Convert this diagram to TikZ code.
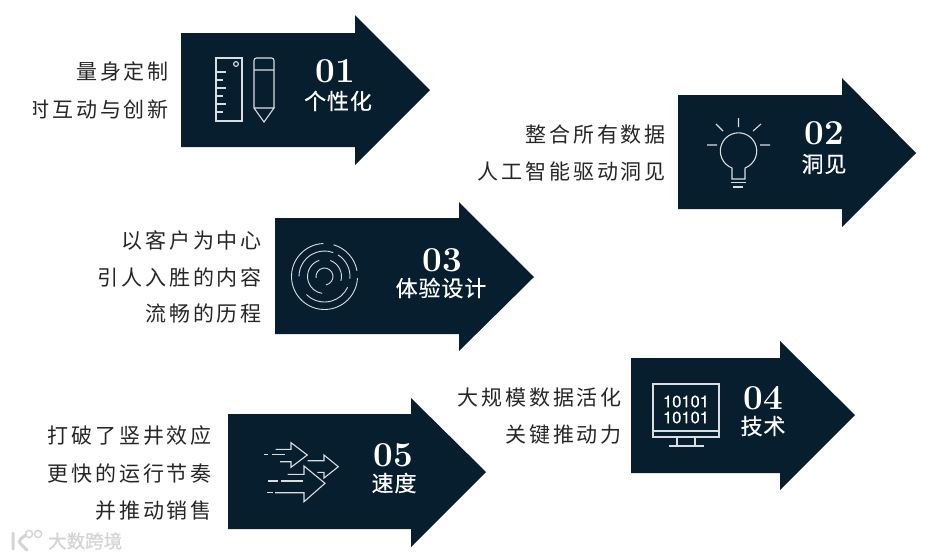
\documentclass[tikz,border=0pt]{standalone}
\usepackage{fontspec}
\usetikzlibrary{calc}
\newfontfamily\cjk[LetterSpace=13.5]{Noto Sans CJK SC}
\newfontfamily\cjkhead[LetterSpace=4,FakeBold=0.5]{Noto Sans CJK SC}
\newfontfamily\cjkmark[FakeBold=1]{Noto Sans CJK SC}
\newfontfamily\binfont[FakeBold=0.4]{TeX Gyre Heros}
\definecolor{navy}{HTML}{071E2F}
\definecolor{iconline}{HTML}{D9DEE1}
\definecolor{wmgray}{HTML}{D4D4D4}
\begin{document}
\begin{tikzpicture}[
  x=1pt,y=-1pt,
  body/.style={anchor=east,inner sep=0pt,font=\fontsize{21}{21}\cjk,text=black!85},
  head/.style={inner sep=0pt,font=\fontsize{22}{22}\cjkhead,text=white},
  num/.style={inner sep=0pt,font=\fontsize{35}{35}\bfseries,text=white},
  binary/.style={inner sep=0pt,text=white,font=\fontsize{16.5}{16.5}\binfont},
  icon/.style={draw=iconline,line width=1.1pt}]
  \useasboundingbox (0,0) rectangle (940,558);

  % the five arrows: left, top, bottom, head x, head top, head bottom, tip x, tip y
  \foreach \l/\t/\b/\hx/\ht/\hb/\tx/\ty in {
    181/33/147/355/15/165/430/90,
    678/95/209/842/78/227/916/153,
    275/218/334/459/202/351/534/277,
    631/358/473/780/341/490/855/415,
    228/414/529/411/398/547/486/472}
    \fill[navy] (\l,\t)--(\hx,\t)--(\hx,\ht)--(\tx,\ty)--(\hx,\hb)--(\hx,\b)--(\l,\b)--cycle;

  % 01: ruler and pencil
  \node[num] (n1) at (335,71) {\oldstylenums{01}};
  \node[head] (h1) at (338,101) {个性化};
  \node[body] (t1a) at (169,72) {量身定制};
  \begin{scope}
    \clip (33,92) rectangle (175,128);
    \node[body] (t1b) at (169,109) {时互动与创新};
  \end{scope}
  \draw[icon] (216,58) rectangle (242,121);
  \draw[icon] (236,64) circle (2.4);
  \foreach \y/\e in {72/226,80/223,88/226,96/223,104/226,112/223}
    \draw[icon] (216,\y)--(\e,\y);
  \draw[icon,rounded corners=2.5pt] (254,108)--(254,58)--(274,58)--(274,108);
  \draw[icon] (254,70)--(274,70) (254,108)--(274,108)--(264,122)--(254,108);

  % 02: bulb
  \node[num] (n2) at (824,133) {\oldstylenums{02}};
  \node[head] (h2) at (824,164) {洞见};
  \node[body] (t2a) at (666,135) {整合所有数据};
  \node[body] (t2b) at (666,171) {人工智能驱动洞见};
  \draw[icon] (732,179)--(732,168) arc[start angle=111,end angle=429,radius=18.2]--(745,179)--cycle;
  \draw[icon] (731,182.5)--(746,182.5) (733,187)--(743,187);
  \draw[icon] (738.5,118)--(738.5,127) (716,124)--(723,131) (761,124)--(753,131)
    (707,145)--(717,145) (760,145)--(770,145);

  % 03: rings
  \node[num] (n3) at (442,260) {\oldstylenums{03}};
  \node[head] (h3) at (441,288) {体验设计};
  \node[body] (t3a) at (262,240) {以客户为中心};
  \node[body] (t3b) at (262,277) {引人入胜的内容};
  \node[body] (t3c) at (262,313) {流畅的历程};
  \coordinate (rc) at (324.5,276.5);
  \foreach \r/\s/\e in {33/92/357,33/74/10,25.5/180/70,25.5/58/-5,25.5/225/335,17/108/262,17/70/-15,8.5/190/-80}
    \draw[icon,line width=.9pt] ($(rc)+(-\s:\r)$) arc[start angle=-\s,end angle=-\e,radius=\r];

  % 04: monitor
  \node[num] (n4) at (763,398) {\oldstylenums{04}};
  \node[head] (h4) at (763,426) {技术};
  \node[body] (t4a) at (622,398) {大规模数据活化};
  \node[body] (t4b) at (622,435) {关键推动力};
  \draw[icon] (653,384) rectangle (719,437);
  \draw[icon] (653,431)--(719,431) (677,437)--(677,446) (695,437)--(695,446) (669,446)--(704,446);
  \node[binary] (b1) at (686,401.5) {10101};
  \node[binary] (b2) at (686,417.5) {10101};

  % 05: fast arrows
  \node[num] (n5) at (393,455) {\oldstylenums{05}};
  \node[head] (h5) at (394,483) {速度};
  \node[body] (t5a) at (212,436) {打破了竖井效应};
  \node[body] (t5b) at (212,474) {更快的运行节奏};
  \node[body] (t5c) at (212,511) {并推动销售};
  \draw[icon] (275.7,449.3)--(291,449.3)--(291,442.7)--(307.3,455)--(291,467.3)--(291,461.7)--(280,461.7);
  \draw[icon] (307.7,460.7)--(324,460.7)--(324,455)--(338.3,466.7)--(324,478)--(324,472.3)--(317.3,472.3);
  \draw[icon] (287.7,474.3)--(304,474.3)--(304,466)--(325,483.3)--(304,501.7)--(304,492.7)--(275,492.7);
  \draw[icon] (264.3,454.3)--(268.3,454.3) (272.3,454.3)--(285,454.3)
    (268.3,481)--(278.3,481) (281,481)--(303.3,481) (267,492.7)--(272.7,492.7);

  % watermark
  \node[inner sep=0pt,anchor=west,text=wmgray,font=\fontsize{18.5}{18.5}\cjkmark] (wm) at (48,541) {大数跨境};
  \draw[wmgray,line width=3pt,line cap=round] (13,533)--(13,549) (26,535) .. controls (17,541) .. (27,550);
  \draw[wmgray,line width=1.4pt] (29,534) circle (3.6) (38,534) circle (3.6);
\end{tikzpicture}
\end{document}
